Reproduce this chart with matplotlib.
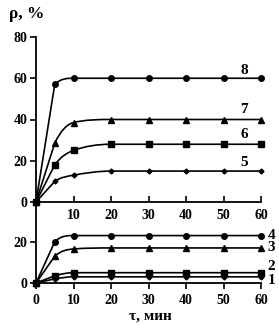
import matplotlib
matplotlib.use("Agg")
import matplotlib.pyplot as plt
from matplotlib.path import Path
from matplotlib.patches import PathPatch

t = [0, 5, 10, 20, 30, 40, 50, 60]
# top panel
c8 = [0, 57, 60, 60, 60, 60, 60, 60]
c7 = [0, 28.5, 38.5, 40, 40, 40, 40, 40]
c6 = [0, 18, 25, 28, 28, 28, 28, 28]
c5 = [0, 10, 13, 15, 15, 15, 15, 15]
# bottom panel
c4 = [0, 20, 23, 23, 23, 23, 23, 23]
c3 = [0, 13, 16.5, 17, 17, 17, 17, 17]
c2 = [0, 3.5, 5, 5, 5, 5, 5, 5]
c1 = [0, 2, 3, 3, 3, 3, 3, 3]

top_xticks = [10, 20, 30, 40, 50, 60]
bot_xticks = [0, 10, 20, 30, 40, 50, 60]
top_yticks = [0, 20, 40, 60, 80]
bot_yticks = [0, 20]

plt.rcParams['font.family'] = ['Liberation Serif', 'DejaVu Serif']
plt.rcParams['font.weight'] = 'bold'

W, H = 279, 325
fig = plt.figure(figsize=(W / 100, H / 100), dpi=100)

def frac(x0, y0, x1, y1):
    return [x0 / W, 1 - y1 / H, (x1 - x0) / W, (y1 - y0) / H]

ax1 = fig.add_axes(frac(36, 37, 261, 202))
ax2 = fig.add_axes(frac(36, 203, 261, 283))
ax2.patch.set_visible(False)
ax1.set_zorder(2)
ax1.patch.set_visible(False)


def smooth_line(ax, x, y, lw):
    """Smoothed (overshoot-limited) Bezier path through the data points;
    the first segment is kept straight."""
    n = len(x)
    h = [x[i + 1] - x[i] for i in range(n - 1)]
    d = [(y[i + 1] - y[i]) / h[i] for i in range(n - 1)]
    m = [0.0] * n
    m[0] = d[0]
    m[-1] = d[-1]
    for k in range(1, n - 1):
        if d[k - 1] * d[k] <= 0:
            m[k] = 0.0
        else:
            cr = (y[k + 1] - y[k - 1]) / (x[k + 1] - x[k - 1])
            lim = 3 * min(abs(d[k - 1]), abs(d[k]))
            m[k] = max(-lim, min(lim, cr))
    verts = [(x[0], y[0])]
    codes = [Path.MOVETO]
    for k in range(n - 1):
        m_out = d[k] if k == 0 else m[k]
        m_in = d[k] if k == 0 else m[k + 1]
        verts += [(x[k] + h[k] / 3, y[k] + m_out * h[k] / 3),
                  (x[k + 1] - h[k] / 3, y[k + 1] - m_in * h[k] / 3),
                  (x[k + 1], y[k + 1])]
        codes += [Path.CURVE4] * 3
    ax.add_patch(PathPatch(Path(verts, codes), facecolor='none',
                           edgecolor='black', lw=lw, clip_on=False))


lw = 1.2
mk = dict(color='black', lw=0, clip_on=False)
series = [
    (ax1, c8, 'o', 4), (ax1, c7, '^', 4.5), (ax1, c6, 's', 4), (ax1, c5, 'D', 2.5),
    (ax2, c4, 'o', 4), (ax2, c3, '^', 4.5), (ax2, c2, 's', 4), (ax2, c1, 'D', 2.5),
]
for ax, ys, m, ms in series:
    smooth_line(ax, t, ys, lw)
    ax.plot(t, ys, marker=m, ms=ms, **mk)

ax1.set_ylim(0, 80)
ax1.set_yticks(top_yticks)
ax1.set_xticks(top_xticks)
ax2.set_ylim(0, 38.8)
ax2.set_yticks(bot_yticks)
ax2.set_xticks(bot_xticks)

for ax in (ax1, ax2):
    ax.set_xlim(0, 60)
    for s in ('top', 'right'):
        ax.spines[s].set_visible(False)
    for s in ('left', 'bottom'):
        ax.spines[s].set_linewidth(1.3)
    ax.tick_params(labelsize=10, width=1.2, length=4, pad=2)
    for lab in ax.get_xticklabels() + ax.get_yticklabels():
        lab.set_fontweight('bold')

ax1.tick_params(axis='x', direction='in', pad=5)
ax2.tick_params(axis='x', direction='out', pad=4)

fs = 11
ax1.text(55.5, 64, '8', fontsize=fs, fontweight='bold', ha='center', va='center')
ax1.text(55.5, 44.7, '7', fontsize=fs, fontweight='bold', ha='center', va='center')
ax1.text(55.5, 32.5, '6', fontsize=fs, fontweight='bold', ha='center', va='center')
ax1.text(55.5, 19, '5', fontsize=fs, fontweight='bold', ha='center', va='center')

ax2.text(62.7, 23, '4', fontsize=fs, fontweight='bold', ha='center', va='center')
ax2.text(62.7, 17, '3', fontsize=fs, fontweight='bold', ha='center', va='center')
ax2.text(62.7, 7.8, '2', fontsize=fs, fontweight='bold', ha='center', va='center')
ax2.text(62.7, 1.2, '1', fontsize=fs, fontweight='bold', ha='center', va='center')

fig.text(27 / W, 1 - 14 / H, 'ρ, %', fontsize=12.5, fontweight='bold', ha='center', va='center')
fig.text(150 / W, 1 - 316 / H, 'τ, мин', fontsize=11, fontweight='bold', ha='center', va='center')

fig.savefig('out.png', dpi=100)
